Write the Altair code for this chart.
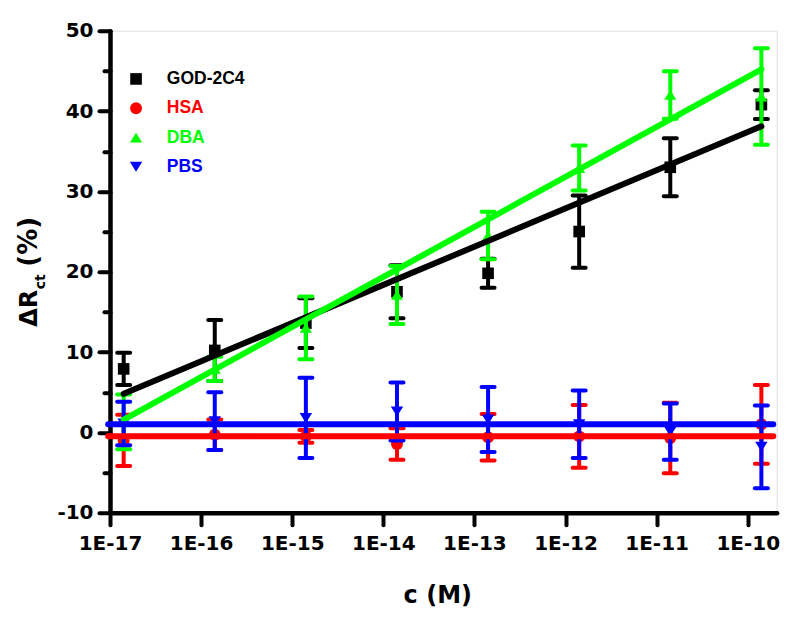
import altair as alt
import pandas as pd

# ---------------- data ----------------
series = ["GOD-2C4", "HSA", "DBA", "PBS"]
colors = ["#000000", "#ff0000", "#00ff00", "#0000ff"]
shapes = ["square", "circle", "M0,-0.8L1,0.8L-1,0.8Z", "M0,0.8L1,-0.8L-1,-0.8Z"]
marker_sizes = [135, 155, 230, 230]

# log10 of concentration (M) of the eight measurements
log_conc = [-16.85, -15.85, -14.85, -13.85, -12.85, -11.85, -10.85, -9.85]
tick_decades = [-17, -16, -15, -14, -13, -12, -11, -10]

god_mean = [7.9, 10.2, 13.6, 17.5, 19.8, 25.0, 33.0, 40.8]
god_err = [2.0, 3.8, 3.1, 3.3, 1.8, 4.5, 3.6, 1.8]
hsa_mean = [-1.0, -0.3, -0.5, -1.45, -0.6, -0.5, -0.7, 1.0]
hsa_err = [3.2, 1.9, 0.8, 1.95, 2.9, 3.9, 4.4, 4.9]
dba_mean = [1.3, 7.9, 13.0, 17.1, 24.5, 32.9, 42.0, 41.8]
dba_err = [3.4, 1.5, 3.9, 3.6, 2.95, 2.8, 2.95, 6.0]
pbs_mean = [1.1, 1.4, 1.8, 2.6, 1.6, 1.0, 0.1, -1.8]
pbs_err = [2.7, 3.6, 5.0, 3.6, 4.05, 4.2, 3.5, 5.15]

means = [god_mean, hsa_mean, dba_mean, pbs_mean]
errs = [god_err, hsa_err, dba_err, pbs_err]

# fitted lines (start/end)
fit_x0 = [-16.85, -17.02, -16.85, -17.02]
fit_x1 = [-9.85, -9.72, -9.85, -9.72]
fit_y0 = [4.8, -0.5, 1.6, 1.0]
fit_y1 = [38.1, -0.5, 45.2, 1.0]

FONT = "DejaVu Sans"
LEG_FONT = "Liberation Sans"

x_scale = alt.Scale(domain=[-17, -9.682], nice=False, zero=False)
y_scale = alt.Scale(domain=[-10, 50], nice=False, zero=False)

x_axis = alt.Axis(
    values=tick_decades, labelExpr="'1E' + datum.value", title="c (M)",
    grid=False, domainColor="black", domainWidth=4.5, domainCap="round",
    tickColor="black", tickWidth=4, tickSize=12, tickCap="round",
    labelFont=FONT, labelFontWeight="bold", labelFontSize=20, labelColor="black",
    labelPadding=9, labelFlush=False, labelOverlap=False,
    titleFont=FONT, titleFontWeight="bold", titleFontSize=24, titleColor="black",
    titleX=327.3, titleY=89.6, titleBaseline="alphabetic", titleAlign="center",
)
y_axis = alt.Axis(
    values=list(range(-10, 55, 5)),
    labelExpr="datum.value % 10 == 0 ? datum.value : ''",
    title=None, grid=False, domainColor="black", domainWidth=4.5, domainCap="round",
    tickColor="black", tickWidth=4, tickCap="round",
    tickSize={"condition": {"test": "datum.value % 10 != 0", "value": 6}, "value": 11},
    labelFont=FONT, labelFontWeight="bold", labelFontSize=20, labelColor="black",
    labelPadding=6, labelFlush=False, labelOverlap=False,
)

label_color_expr = " : ".join(
    f"datum.label == '{s}' ? '{c}'" for s, c in zip(series, colors)
) + " : 'black'"

legend = alt.Legend(
    title=None, orient="none", legendX=17.3, legendY=39.5, padding=0,
    labelFont=LEG_FONT, labelFontWeight="bold", labelFontSize=17.5,
    labelColor=alt.ExprRef(expr=label_color_expr),
    labelOffset=22, rowPadding=10.3, symbolStrokeWidth=0, symbolOpacity=1,
)

layers = []
for i, name in enumerate(series):
    df = pd.DataFrame({
        "series": name,
        "logc": log_conc,
        "val": means[i],
        "lo": [m - e for m, e in zip(means[i], errs[i])],
        "hi": [m + e for m, e in zip(means[i], errs[i])],
    })
    base = alt.Chart(df)
    x_enc = alt.X("logc:Q", scale=x_scale, axis=x_axis)
    bar = base.mark_rule(strokeWidth=4, color=colors[i]).encode(
        x=x_enc,
        y=alt.Y("lo:Q", scale=y_scale, axis=y_axis),
        y2="hi:Q",
    )
    cap_lo = base.mark_rule(strokeWidth=4, strokeCap="round", color=colors[i],
                            xOffset=-6.5, x2Offset=6.5).encode(
        x=x_enc, x2="logc:Q",
        y=alt.Y("lo:Q", scale=y_scale, axis=y_axis),
    )
    cap_hi = base.mark_rule(strokeWidth=4, strokeCap="round", color=colors[i],
                            xOffset=-6.5, x2Offset=6.5).encode(
        x=x_enc, x2="logc:Q",
        y=alt.Y("hi:Q", scale=y_scale, axis=y_axis),
    )
    pts = base.mark_point(filled=True, opacity=1, strokeWidth=0).encode(
        x=x_enc,
        y=alt.Y("val:Q", scale=y_scale, axis=y_axis),
        color=alt.Color("series:N", scale=alt.Scale(domain=series, range=colors), legend=legend),
        shape=alt.Shape("series:N", scale=alt.Scale(domain=series, range=shapes), legend=legend),
        size=alt.Size("series:N", scale=alt.Scale(domain=series, range=marker_sizes), legend=legend),
    )
    layers += [bar, cap_lo, cap_hi, pts]

for i, name in enumerate(series):
    fdf = pd.DataFrame({"logc": [fit_x0[i], fit_x1[i]], "val": [fit_y0[i], fit_y1[i]]})
    line = alt.Chart(fdf).mark_line(strokeWidth=6, strokeCap="round", color=colors[i]).encode(
        x=alt.X("logc:Q", scale=x_scale, axis=x_axis),
        y=alt.Y("val:Q", scale=y_scale, axis=y_axis),
    )
    layers.append(line)

# y-axis title with subscript, built from text marks
title_parts = pd.DataFrame({"t": ["\u0394R"]})
sub_part = pd.DataFrame({"t": ["ct"]})
pct_part = pd.DataFrame({"t": ["(%)"]})
tstyle = dict(angle=270, align="left", baseline="alphabetic", font=FONT,
              fontWeight="bold", color="black")
layers.append(alt.Chart(title_parts).mark_text(fontSize=24, **tstyle).encode(
    x=alt.value(-72.7), y=alt.value(296), text="t:N"))
layers.append(alt.Chart(sub_part).mark_text(fontSize=14, **tstyle).encode(
    x=alt.value(-64.7), y=alt.value(258.5), text="t:N"))
layers.append(alt.Chart(pct_part).mark_text(fontSize=26, **tstyle).encode(
    x=alt.value(-72.7), y=alt.value(236), text="t:N"))

chart = alt.layer(*layers).properties(
    width=666.7, height=482,
    padding={"left": 102, "top": 22.7, "right": 15, "bottom": 100},
    autosize=alt.AutoSizeParams(type="none"),
).configure_view(stroke=None).configure(background="white")

chart.save("out.html", embed_options={"renderer": "svg", "actions": False})
